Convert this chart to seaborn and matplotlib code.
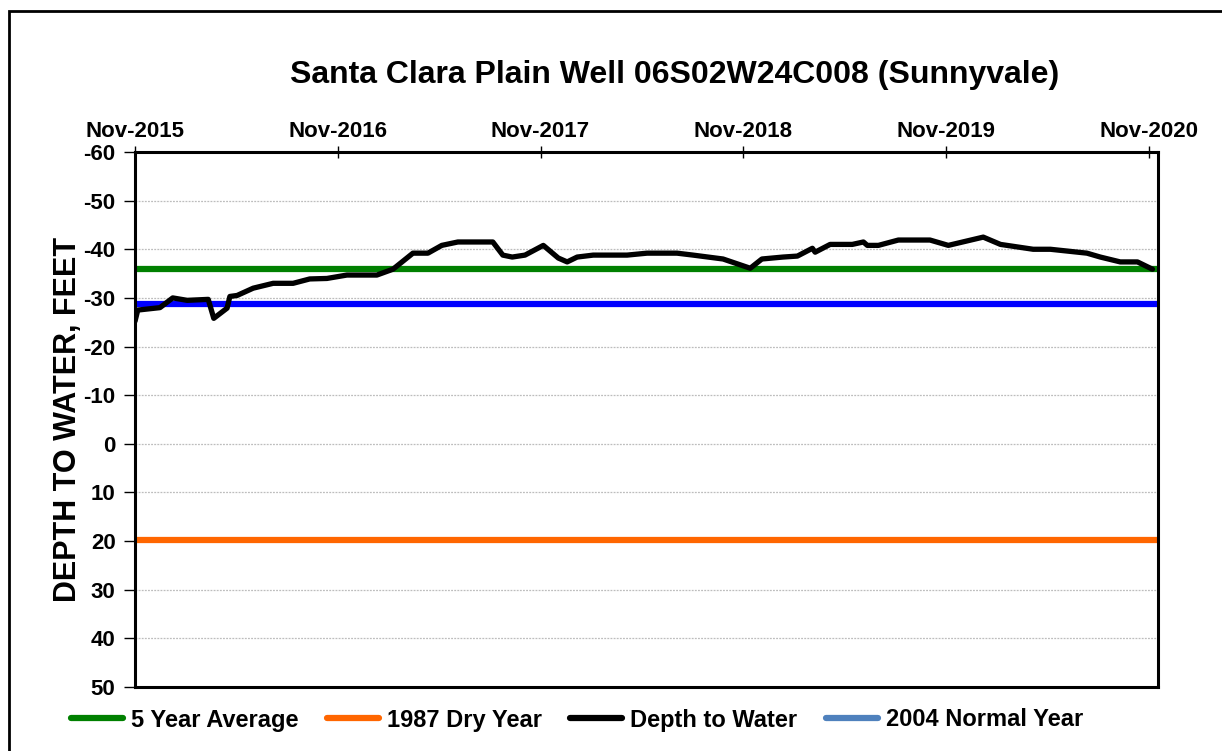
import pandas as pd
import numpy as np
import matplotlib
matplotlib.use("Agg")
import matplotlib.pyplot as plt
from matplotlib.lines import Line2D
from matplotlib.patches import Rectangle
import seaborn as sns

# data
dates = ["2015-11-01", "2015-11-06", "2015-12-16", "2016-01-08", "2016-02-03",
         "2016-03-12", "2016-03-22", "2016-04-15", "2016-04-20", "2016-05-03",
         "2016-06-01", "2016-07-07", "2016-08-12", "2016-09-11", "2016-10-12",
         "2016-11-17", "2017-01-10", "2017-02-08", "2017-03-16", "2017-04-12",
         "2017-05-07", "2017-06-05", "2017-08-07", "2017-08-25", "2017-09-11",
         "2017-10-04", "2017-11-06", "2017-12-03", "2017-12-19", "2018-01-06",
         "2018-02-04", "2018-04-06", "2018-05-12", "2018-07-05", "2018-08-03",
         "2018-09-26", "2018-11-14", "2018-12-05", "2019-01-12", "2019-02-07",
         "2019-03-06", "2019-03-11", "2019-04-07", "2019-05-17", "2019-06-06",
         "2019-06-13", "2019-07-03", "2019-08-08", "2019-10-04", "2019-11-06",
         "2020-01-08", "2020-02-08", "2020-04-07", "2020-05-08", "2020-07-13",
         "2020-08-06", "2020-09-11", "2020-10-12", "2020-11-08"]
depth = [-25.2, -27.5, -28.0, -30.0, -29.5,
         -29.7, -25.8, -27.9, -30.3, -30.5,
         -32.0, -33.0, -33.0, -33.9, -34.0,
         -34.7, -34.7, -35.9, -39.2, -39.2,
         -40.8, -41.5, -41.5, -38.8, -38.4,
         -38.8, -40.8, -38.2, -37.4, -38.4,
         -38.8, -38.8, -39.2, -39.2, -38.8,
         -38.0, -36.1, -38.0, -38.4, -38.6,
         -40.2, -39.4, -41.0, -41.0, -41.5,
         -40.8, -40.8, -41.9, -41.9, -40.8,
         -42.5, -41.0, -40.0, -40.0, -39.2,
         -38.4, -37.4, -37.4, -35.9]

ref_names = ["5 Year Average", "1987 Dry Year", "2004 Normal Year"]
ref_levels = [-35.9, 19.8, -28.7]
ref_colors = ["#008000", "#FF6600", "#0000FF"]

tick_dates = ["2015-11-01", "2016-11-01", "2017-11-01", "2018-11-01", "2019-11-01", "2020-11-01"]
tick_labels = ["Nov-2015", "Nov-2016", "Nov-2017", "Nov-2018", "Nov-2019", "Nov-2020"]
y_ticks = [-60, -50, -40, -30, -20, -10, 0, 10, 20, 30, 40, 50]

df = pd.DataFrame({"Date": pd.to_datetime(dates), "Depth": depth})

sns.set_style("white")
plt.rcParams["font.family"] = ["Liberation Sans", "DejaVu Sans"]
plt.rcParams["font.weight"] = "bold"
plt.rcParams["text.color"] = "black"
plt.rcParams["axes.labelcolor"] = "black"

fig = plt.figure(figsize=(12.22, 7.51), dpi=100)
ax = fig.add_axes([135 / 1222, 1 - 687 / 751, (1158 - 135) / 1222, (687 - 152) / 751])

for lvl, col in zip(ref_levels, ref_colors):
    ax.axhline(lvl, color=col, linewidth=4.5, zorder=2)

sns.lineplot(data=df, x="Date", y="Depth", color="black", linewidth=3.8, ax=ax, zorder=3,
             solid_joinstyle="round")

ax.set_xlim(pd.Timestamp("2015-11-01"), pd.Timestamp("2020-11-18"))
ax.set_ylim(50, -60)
ax.set_yticks(y_ticks)
ax.set_yticklabels([str(v) for v in y_ticks], fontsize=16, fontweight="bold")
ax.set_xticks(pd.to_datetime(tick_dates))
ax.set_xticklabels(tick_labels, fontsize=16, fontweight="bold")
ax.xaxis.tick_top()
ax.tick_params(axis="x", direction="inout", length=9, width=1, pad=3, colors="black")
ax.tick_params(axis="y", direction="out", length=8, width=1, pad=6, left=True, colors="black")
ax.yaxis.grid(True, linestyle=(0, (1.5, 1)), color="#bdbdbd", linewidth=0.9)
ax.xaxis.grid(False)
ax.set_axisbelow(True)
for s in ax.spines.values():
    s.set_color("black")
    s.set_linewidth(2.2)
ax.set_xlabel("")
ax.set_ylabel("DEPTH TO WATER, FEET", fontsize=22, fontweight="bold", labelpad=0)

fig.text(675 / 1222, 1 - 75 / 751, "Santa Clara Plain Well 06S02W24C008 (Sunnyvale)",
         ha="center", va="center", fontsize=23, fontweight="bold")

handles = [Line2D([], [], color="#008000", linewidth=4.5),
           Line2D([], [], color="#FF6600", linewidth=4.5),
           Line2D([], [], color="black", linewidth=4.5),
           Line2D([], [], color="#4F81BD", linewidth=4.5)]
labels = ["5 Year Average", "1987 Dry Year", "Depth to Water", "2004 Normal Year"]
fig.legend(handles, labels, loc="center", bbox_to_anchor=(577 / 1222, 1 - 720 / 751),
           ncol=4, frameon=False, prop={"size": 17, "weight": "bold"},
           handlelength=2.2, handletextpad=0.35, columnspacing=1.2)

fig.add_artist(Rectangle((9 / 1222, -0.05), 1.2, 1 - 11 / 751 + 0.05,
                         transform=fig.transFigure, fill=False, edgecolor="black", linewidth=2))

fig.savefig("out.png", dpi=100)
